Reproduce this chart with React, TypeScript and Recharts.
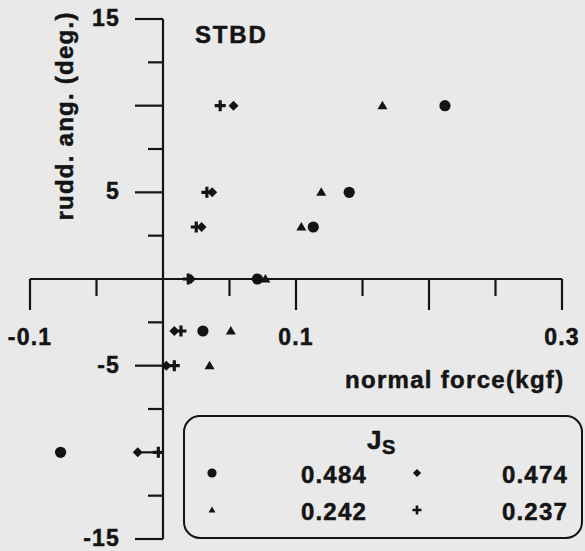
import React from "react";
import { ScatterChart, Scatter, XAxis, YAxis, ReferenceLine } from "recharts";

// rudder angle (deg) against normal force (kgf), one list per propeller load Js
const ANGLE_484 = [10, 5, 3, 0, -3, -10];
const FORCE_484 = [0.212, 0.14, 0.113, 0.071, 0.03, -0.077];

const ANGLE_474 = [10, 5, 3, 0, -3, -5, -10];
const FORCE_474 = [0.053, 0.037, 0.029, 0.021, 0.0085, 0.0025, -0.019];

const ANGLE_242 = [10, 5, 3, 0, -3, -5];
const FORCE_242 = [0.165, 0.119, 0.104, 0.077, 0.051, 0.035];

const ANGLE_237 = [10, 5, 3, 0, -3, -5, -10];
const FORCE_237 = [0.043, 0.033, 0.025, 0.019, 0.0135, 0.0085, -0.0035];

const X_TICKS = [-0.1, -0.05, 0.05, 0.1, 0.15, 0.2, 0.25, 0.3];
const X_TICK_LABELS = ["-0.1", "", "", "0.1", "", "", "", "0.3"];
const Y_TICKS = [15, 12.5, 10, 7.5, 5, 2.5, -2.5, -5, -7.5, -10, -12.5, -15];
const Y_TICK_LABELS = ["15", "", "", "", "5", "", "", "-5", "", "", "", "-15"];

const X_DOMAIN: [number, number] = [-0.1, 0.3];
const Y_DOMAIN: [number, number] = [-15, 15];

const W = 585;
const H = 551;
const AXIS_X_H = 10;
const AXIS_Y_W = 10;
const M = { top: 19, right: 23, bottom: 12 - AXIS_X_H, left: 30 - AXIS_Y_W };
const PLOT_L = M.left + AXIS_Y_W;
const PLOT_W = W - PLOT_L - M.right;
const PLOT_H = H - M.top - (M.bottom + AXIS_X_H);
// axes cross at the origin, not at the plot edge
const ZERO_X = PLOT_L + (PLOT_W * (0 - X_DOMAIN[0])) / (X_DOMAIN[1] - X_DOMAIN[0]);
const ZERO_Y = M.top + (PLOT_H * Y_DOMAIN[1]) / (Y_DOMAIN[1] - Y_DOMAIN[0]);

const INK = "#141414";
const BG = "#e9e9e9";
const FONT = "'Liberation Sans', Arial, Helvetica, sans-serif";
const TEXT = {
  fontFamily: FONT,
  fontWeight: 700,
  fill: INK,
  stroke: INK,
  strokeWidth: 0.5,
  letterSpacing: 1.2,
};

type Kind = "circle" | "diamond" | "triangle" | "plus";

const SERIES: { name: string; kind: Kind; x: number[]; y: number[] }[] = [
  { name: "0.484", kind: "circle", x: FORCE_484, y: ANGLE_484 },
  { name: "0.474", kind: "diamond", x: FORCE_474, y: ANGLE_474 },
  { name: "0.242", kind: "triangle", x: FORCE_242, y: ANGLE_242 },
  { name: "0.237", kind: "plus", x: FORCE_237, y: ANGLE_237 },
];

function Glyph({ kind, cx, cy, s = 1, fill = INK }: { kind: Kind; cx: number; cy: number; s?: number; fill?: string }) {
  if (kind === "circle") return <circle cx={cx} cy={cy} r={5.6 * s} fill={fill} />;
  if (kind === "diamond") {
    const d = 5 * s;
    return <path d={`M${cx},${cy - d}L${cx + d},${cy}L${cx},${cy + d}L${cx - d},${cy}Z`} fill={fill} />;
  }
  if (kind === "triangle") {
    const a = 5 * s;
    return <path d={`M${cx},${cy - a}L${cx + a},${cy + a * 0.7}L${cx - a},${cy + a * 0.7}Z`} fill={fill} />;
  }
  const a = 5.5 * s;
  return (
    <path
      d={`M${cx - a},${cy}H${cx + a}M${cx},${cy - a}V${cy + a}`}
      stroke={fill}
      strokeWidth={3.2 * s}
    />
  );
}

function XTick(props: any) {
  const { x, payload } = props;
  const v = payload.value;
  const i = X_TICKS.indexOf(v);
  const major = Math.abs(v * 10 - Math.round(v * 10)) < 1e-6;
  return (
    <g>
      <line x1={x} x2={x} y1={ZERO_Y} y2={ZERO_Y + (major ? 31 : 17)} stroke={INK} strokeWidth={2.2} />
      {X_TICK_LABELS[i] && (
        <text x={x} y={ZERO_Y + 66} textAnchor="middle" fontSize={23} {...TEXT}>
          {X_TICK_LABELS[i]}
        </text>
      )}
    </g>
  );
}

function YTick(props: any) {
  const { y, payload } = props;
  const v = payload.value;
  const i = Y_TICKS.indexOf(v);
  const major = v % 5 === 0;
  return (
    <g>
      <line x1={ZERO_X} x2={ZERO_X - (major ? 28 : 15)} y1={y} y2={y} stroke={INK} strokeWidth={2.2} />
      {Y_TICK_LABELS[i] && (
        <text x={ZERO_X - 43} y={y + 7} textAnchor="end" fontSize={23} {...TEXT}>
          {Y_TICK_LABELS[i]}
        </text>
      )}
    </g>
  );
}

function Legend() {
  const box = { x: 184, y: 416, w: 398, h: 122 };
  const cols = [212, 417];
  const textRight = [367, 568];
  const rows = [473, 510];
  return (
    <g>
      <rect x={box.x} y={box.y} width={box.w} height={box.h} rx={16} fill="none" stroke={INK} strokeWidth={2} />
      <text x={367} y={449} fontSize={26} {...TEXT} letterSpacing={0.5}>
        J
        <tspan fontSize={20} dy={5}>
          S
        </tspan>
      </text>
      {SERIES.map((s, i) => {
        const col = i % 2;
        const row = Math.floor(i / 2);
        return (
          <g key={s.name}>
            <Glyph kind={s.kind} cx={cols[col]} cy={rows[row]} s={s.kind === "triangle" ? 0.7 : 0.82} />
            <text x={textRight[col]} y={rows[row] + 10} textAnchor="end" fontSize={24} {...TEXT}>
              {s.name}
            </text>
          </g>
        );
      })}
    </g>
  );
}

export default function App() {
  return (
    <div style={{ position: "absolute", left: 0, top: 0, width: W, height: H, background: BG }}>
      <ScatterChart width={W} height={H} margin={M} style={{ overflow: "visible" }}>
        <XAxis
          type="number"
          dataKey="x"
          domain={X_DOMAIN}
          ticks={X_TICKS}
          interval={0}
          height={AXIS_X_H}
          axisLine={false}
          tickLine={false}
          tick={<XTick />}
          allowDataOverflow
        />
        <YAxis
          type="number"
          dataKey="y"
          domain={Y_DOMAIN}
          ticks={Y_TICKS}
          interval={0}
          width={AXIS_Y_W}
          axisLine={false}
          tickLine={false}
          tick={<YTick />}
          allowDataOverflow
        />
        <ReferenceLine y={0} stroke={INK} strokeWidth={2.2} />
        <ReferenceLine x={0} stroke={INK} strokeWidth={2.2} />
        {SERIES.map((s) => (
          <Scatter
            key={s.name}
            name={s.name}
            data={s.x.map((x, i) => ({ x, y: s.y[i] }))}
            isAnimationActive={false}
            shape={(p: any) => <Glyph kind={s.kind} cx={p.cx} cy={p.cy} />}
          />
        ))}
      </ScatterChart>
      <svg width={W} height={H} style={{ position: "absolute", left: 0, top: 0, pointerEvents: "none" }}>
        <text x={195} y={43} fontSize={24} {...TEXT} letterSpacing={1.8}>
          STBD
        </text>
        <text transform="translate(73,116) rotate(-90)" textAnchor="middle" fontSize={24} {...TEXT} letterSpacing={1.25}>
          rudd. ang. (deg.)
        </text>
        <text x={345} y={388} fontSize={24} {...TEXT} letterSpacing={1.3}>
          normal force(kgf)
        </text>
        <Legend />
      </svg>
    </div>
  );
}
